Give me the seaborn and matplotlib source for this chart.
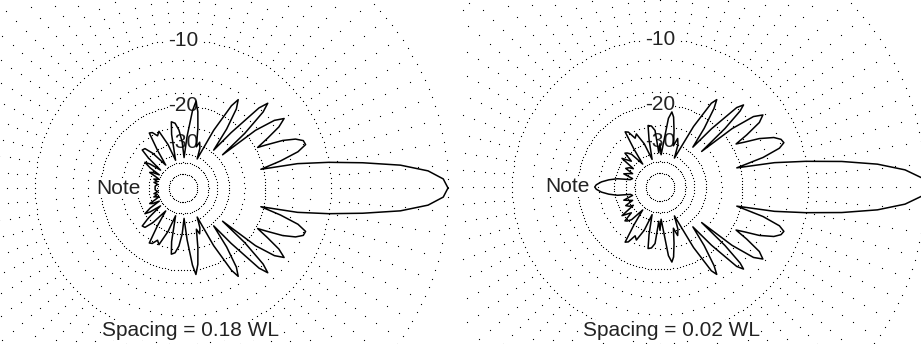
import numpy as np
import pandas as pd
import matplotlib
matplotlib.use("Agg")
import matplotlib.pyplot as plt
import seaborn as sns
from matplotlib.patches import Rectangle

sns.set_style("white")
plt.rcParams["font.family"] = ["Liberation Sans", "DejaVu Sans"]

# ---- data (upper half of each symmetric pattern, azimuth deg / relative dB) ----
left_deg = [0, 2, 4, 6, 8, 10, 12, 13.5, 15.5, 17.5, 19.5, 21.5, 23.5, 25.5, 27.5, 28.5,
            30.5, 32.5, 34.5, 36.5, 38.5, 40, 41.5, 43.5, 45, 46.5, 49, 51, 53.5, 56, 58, 59.5,
            62, 64, 67, 70, 72, 76, 79, 81.5, 83, 85.5, 88, 91, 94, 97, 100, 102,
            105, 109, 113, 116, 119, 121.5, 124, 127, 131, 134, 137, 139, 141.5, 144, 146, 148.5,
            151, 153, 155, 157, 160, 163, 166, 169, 172, 176, 180]
left_db = [0, -0.3, -1.3, -3.3, -6.5, -10, -14, -20.5, -16.5, -13.5, -12.2, -12.3, -13.2, -15, -18, -19.5,
           -17, -14.5, -13.2, -14.5, -18, -28, -20, -15, -13.6, -15, -22, -29, -22, -17.5, -16, -17.5,
           -24, -36, -31, -29, -31, -25, -21, -19, -21, -28, -37, -30, -26, -24, -23.5, -27,
           -38, -30, -25, -26, -24.5, -24.2, -30, -38, -30, -27, -26.7, -30, -38, -32, -30, -33,
           -39, -35, -33.8, -37, -40, -37, -39.5, -37.5, -40, -38.5, -38.5]

right_deg = [0, 2, 4, 6, 8, 10, 12, 14, 16, 18, 19.7, 21.5, 23.5, 26, 28, 29.5,
             31, 33, 35, 37, 39, 40.5, 42, 43.5, 44.5, 46, 48.5, 50.5, 53, 55.5, 57, 58.5,
             61, 63.5, 67, 70, 72, 76, 79, 81, 83, 86, 88, 90, 92, 95, 98, 101,
             103, 106, 110, 114, 117, 120, 122.3, 124.5, 127, 131, 134, 136, 138, 141, 143, 145.5,
             148, 151.5, 154, 157, 160, 163, 166, 169, 172, 175, 178, 180]
right_db = [0, -0.2, -1.3, -3.3, -6.3, -10, -14, -20.7, -15.5, -12.8, -12, -12.2, -13, -15, -17.5, -19,
            -16.5, -13.8, -12.8, -14, -18, -27, -19, -15, -14, -15, -21, -28, -22, -17.5, -16, -17,
            -23, -36, -30, -28, -31, -26, -22.5, -21.4, -23, -32, -36, -31, -35, -26.4, -25, -24.7,
            -29, -38, -30, -26, -27, -24.5, -24, -30, -38, -31, -29.5, -29, -33, -31, -29.4, -36,
            -34, -32.8, -37, -35, -33, -38, -37, -31, -28, -25.8, -24.4, -24]

spacing_labels = ["Spacing = 0.18 WL", "Spacing = 0.02 WL"]
major_rings = [0, -10, -20, -30, -40, -50]
minor_rings = [-1, -2, -3, -4, -5, -6, -7, -8, -9, -12.5, -15, -17.5, -25, -35]
ring_labels = ["-10", "-20", "-30"]
note_text = "Note"

# ---- ARRL-style log radial scale ----
K = -np.log(0.89) / 2.0


def fwd(db):
    return np.exp(np.asarray(db, dtype=float) * K)


def inv(r):
    return np.log(np.clip(np.asarray(r, dtype=float), 1e-12, None)) / K


W, H = 921, 344
R = 265
fig = plt.figure(figsize=(W / 100, H / 100), dpi=100)
fig.patch.set_facecolor("white")

panels = [
    dict(cx=183, cy=188, deg=left_deg, db=left_db, clipx=(0, 460), note=(np.pi, -24.2),
         label=spacing_labels[0], lx=190),
    dict(cx=660, cy=187, deg=right_deg, db=right_db, clipx=(461, 921), note=(np.pi, -18.0),
         label=spacing_labels[1], lx=671),
]

major_step = {0: 2.0, -10: 2.0, -20: 2.2, -30: 3.5, -40: 5.0, -50: 8.0}
dot_color = "#000000"
dot_ms = 0.8

for p in panels:
    ax = fig.add_axes([(p["cx"] - R) / W, (H - p["cy"] - R) / H, 2 * R / W, 2 * R / H],
                      projection="polar")
    ax.set_rscale("function", functions=(fwd, inv))
    ax.patch.set_visible(False)
    ax.grid(False)
    ax.set_xticks([])
    ax.set_yticks([])
    ax.spines["polar"].set_visible(False)

    # rings of dots
    for lev in major_rings:
        th = np.deg2rad(np.arange(0, 360, major_step[lev]))
        ax.plot(th, np.full_like(th, lev), ls="none", marker="s", ms=dot_ms,
                mec="none", mfc=dot_color, zorder=1)
    for lev in minor_rings:
        th = np.deg2rad(np.arange(0, 360, 5.0))
        ax.plot(th, np.full_like(th, lev), ls="none", marker="s", ms=dot_ms,
                mec="none", mfc=dot_color, zorder=1)
    ax.plot([0], [-120], ls="none", marker="s", ms=dot_ms, mec="none", mfc=dot_color, zorder=1)

    # pattern (symmetric about the boresight axis)
    deg = np.asarray(p["deg"], float)
    db = np.asarray(p["db"], float)
    full_deg = np.concatenate([deg, 360 - deg[::-1][1:]])
    full_db = np.concatenate([db, db[::-1][1:]])
    df = pd.DataFrame({"theta": np.deg2rad(full_deg), "db": full_db})
    sns.lineplot(data=df, x="theta", y="db", ax=ax, sort=False, estimator=None,
                 color="black", lw=1.1, zorder=3)
    ax.set_xlabel("")
    ax.set_ylabel("")

    for lab, lev in zip(ring_labels, [-10, -20, -30]):
        ax.text(np.pi / 2, lev, lab, ha="center", va="center", fontsize=15, color="#222",
                zorder=2, bbox=dict(fc="white", ec="none", pad=0.3))
    ax.text(p["note"][0], p["note"][1], note_text, ha="center", va="center", fontsize=15,
            color="#222", zorder=2, bbox=dict(fc="white", ec="none", pad=0.3))

    ax.set_rlim(-120, 0)
    ax.set_thetalim(0, 2 * np.pi)

    clip = Rectangle((p["clipx"][0] / W, 0), (p["clipx"][1] - p["clipx"][0]) / W, 1,
                     transform=fig.transFigure, fc="none")
    for art in ax.lines:
        art.set_clip_path(clip)

    fig.text(p["lx"] / W, 1 - 330 / H, p["label"], ha="center", va="center", fontsize=15,
             color="#222", bbox=dict(fc="white", ec="none", pad=0.3), zorder=5)

fig.savefig("out.png", dpi=100, facecolor="white")
